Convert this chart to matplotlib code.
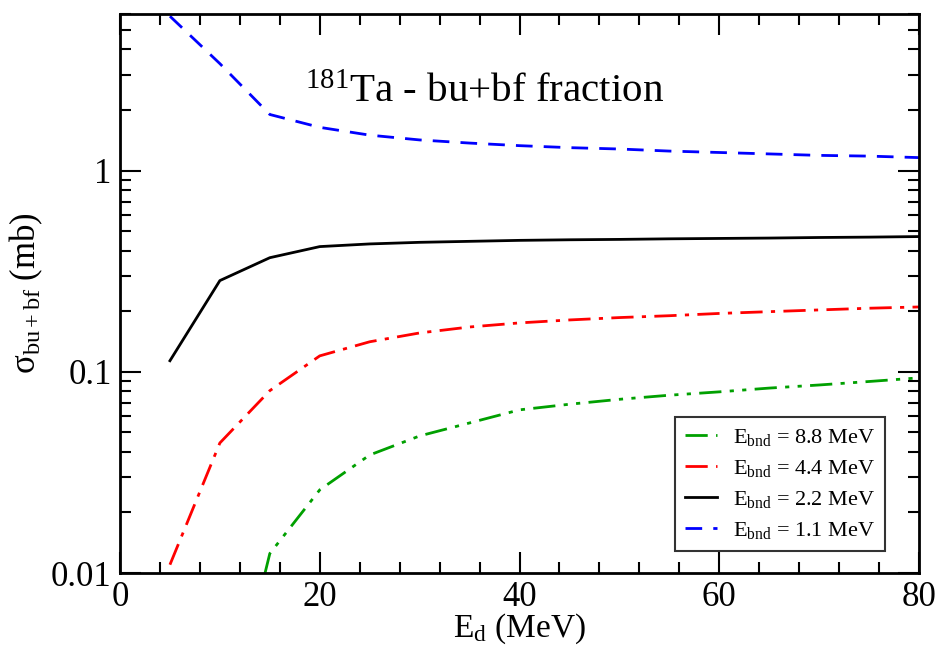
import numpy as np
import matplotlib
matplotlib.use('Agg')
import matplotlib.pyplot as plt
from matplotlib.ticker import MultipleLocator, LogLocator, NullFormatter, FixedLocator, FixedFormatter

plt.rcParams['font.family'] = ['Liberation Serif', 'DejaVu Serif']
plt.rcParams['mathtext.fontset'] = 'custom'
plt.rcParams['mathtext.rm'] = 'Liberation Serif'
plt.rcParams['mathtext.it'] = 'Liberation Serif:italic'

# deuteron energy grid (MeV)
e_d = [5, 10, 15, 20, 25, 30, 35, 40, 45, 50, 55, 60, 65, 70, 75, 80]

sigma_11 = [5.85, 3.4, 1.9, 1.64, 1.5, 1.42, 1.37, 1.33, 1.30, 1.28, 1.25, 1.23, 1.21, 1.19, 1.18, 1.16]
sigma_22 = [0.1135, 0.284, 0.369, 0.419, 0.432, 0.440, 0.445, 0.450, 0.453, 0.455, 0.458, 0.460, 0.462, 0.465, 0.467, 0.470]
sigma_44 = [0.011, 0.0443, 0.0806, 0.120, 0.141, 0.156, 0.167, 0.175, 0.181, 0.186, 0.190, 0.195, 0.199, 0.203, 0.207, 0.210]

e_d_88 = [14.5, 15, 20, 25, 30, 35, 40, 45, 50, 55, 60, 65, 70, 75, 80]
sigma_88 = [0.0099, 0.0125, 0.0259, 0.0386, 0.048, 0.0557, 0.0647, 0.069, 0.073, 0.0765, 0.0795, 0.083, 0.086, 0.0895, 0.0933]

fig = plt.figure(figsize=(9.39, 6.48), dpi=100)
ax = fig.add_axes([0.1278, 0.1157, 0.8509, 0.8627])

lw = 2.0
ax.plot(e_d_88, sigma_88, color='#00a000', lw=lw, dashes=[8, 3, 1.5, 3, 1.5, 3],
        label='E$_{\\rm bnd}$ = 8.8 MeV')
ax.plot(e_d, sigma_44, color='#ff0000', lw=lw, dashes=[8, 3, 1.5, 3],
        label='E$_{\\rm bnd}$ = 4.4 MeV')
ax.plot(e_d, sigma_22, color='black', lw=lw, label='E$_{\\rm bnd}$ = 2.2 MeV')
ax.plot(e_d, sigma_11, color='#0000ff', lw=lw, dashes=[6, 4],
        label='E$_{\\rm bnd}$ = 1.1 MeV')

ax.set_yscale('log')
ax.set_xlim(0, 80)
ax.set_ylim(0.01, 6)

ax.xaxis.set_major_locator(MultipleLocator(20))
ax.xaxis.set_minor_locator(MultipleLocator(4))
ax.yaxis.set_major_locator(FixedLocator([0.01, 0.1, 1]))
ax.yaxis.set_major_formatter(FixedFormatter(['0.01', '0.1', '1']))
ax.yaxis.set_minor_locator(LogLocator(base=10, subs=np.arange(2, 10)))
ax.yaxis.set_minor_formatter(NullFormatter())

ax.tick_params(which='both', direction='in', top=True, right=True, width=1.5, labelsize=25, pad=6)
ax.tick_params(which='major', length=15)
ax.tick_params(which='minor', length=8)
for s in ax.spines.values():
    s.set_linewidth(2)

ax.set_xlabel('E$_{\\rm d}$ (MeV)', fontsize=24, labelpad=-2)
ax.set_ylabel('σ$_{\\rm bu+bf}$ (mb)', fontsize=25, labelpad=4)

ax.text(0.232, 0.843, '$^{181}$Ta - bu+bf fraction', transform=ax.transAxes, fontsize=29.5)

leg = ax.legend(loc='lower right', bbox_to_anchor=(0.9575, 0.039), borderaxespad=0,
                fontsize=16, frameon=True, fancybox=False, edgecolor='black',
                handlelength=1.45, labelspacing=0.45, borderpad=0.45, handletextpad=0.7)
leg.get_frame().set_linewidth(1.5)

fig.savefig('out.png', dpi=100)
